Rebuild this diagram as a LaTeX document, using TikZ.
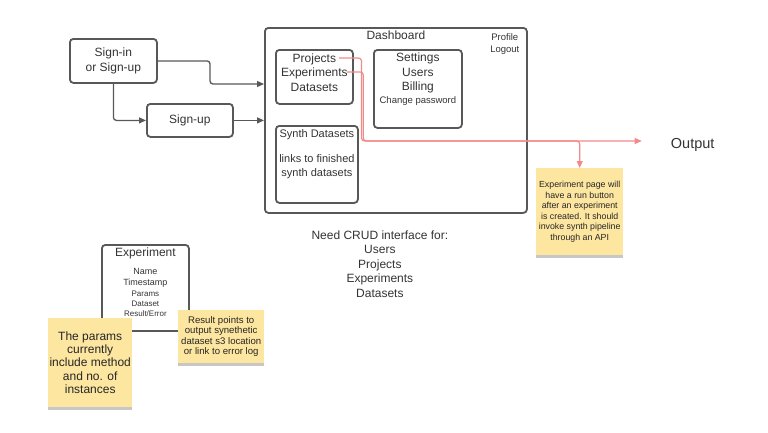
\documentclass[tikz,border=0pt]{standalone}
\usepackage{fontspec}
\setmainfont{Liberation Sans}
\usetikzlibrary{arrows.meta,shadows}
\definecolor{boxgray}{HTML}{585858}
\definecolor{txtgray}{HTML}{333333}
\definecolor{linkred}{HTML}{F28A8A}
\definecolor{notey}{HTML}{FDE6A0}
\newcommand{\fsz}[2]{\fontsize{#1}{#2}\selectfont}
\begin{document}
\begin{tikzpicture}[x=1pt,y=-1pt,
    >={Triangle[length=7pt,width=6pt]},
    uibox/.style={rectangle,draw=boxgray,line width=1.8pt,rounded corners=3.5pt,anchor=north west,inner sep=0pt},
    sticky/.style={rectangle,fill=notey,anchor=north west,inner sep=0pt,drop shadow={shadow xshift=0pt,shadow yshift=-2.5pt,opacity=0.22,fill=black}},
    txt/.style={align=center,text=txtgray,inner sep=0pt},
    flow/.style={->,draw=boxgray,line width=1.3pt,rounded corners=3pt},
    link/.style={->,draw=linkred,line width=1.2pt,rounded corners=3pt}]
    \useasboundingbox (0,0) rectangle (768,432);

    \node[uibox,minimum width=87,minimum height=44] (signin) at (69,38) {} ;
    \node[txt,font=\fsz{12}{14.5}] (signin_t) at (signin.center) {Sign-in\\or Sign-up} ;
    \node[uibox,minimum width=86,minimum height=33] (signup) at (146,103) {} ;
    \node[txt,font=\fsz{12}{14.5}] (signup_t) at (signup.center) {Sign-up} ;

    % dashboard and its panels
    \node[uibox,minimum width=262,minimum height=185] (dash) at (264,27) {} ;
    \node[txt,font=\fsz{12}{14.5},yshift=-8.7pt] (dash_t) at (dash.north) {Dashboard} ;
    \node[txt,font=\fsz{9.5}{12},xshift=-23pt,yshift=-17.3pt] (profile) at (dash.north east) {Profile\\Logout} ;
    \node[uibox,minimum width=77,minimum height=54] (projects) at (275,49) {} ;
    \node[txt,font=\fsz{12}{14.5},yshift=-23.3pt] (projects_t) at (projects.north) {Projects\\Experiments\\Datasets} ;
    \node[uibox,minimum width=88,minimum height=78] (settings) at (373,49) {} ;
    \node[txt,font=\fsz{12}{14.5},yshift=-30.4pt] (settings_t) at (settings.north) {Settings\\Users\\Billing\\[-1.2pt]{\fsz{9.5}{14.5}Change password}} ;
    \node[uibox,minimum width=82,minimum height=77] (synth) at (275,125) {} ;
    \node[txt,font=\fsz{11}{14},yshift=-28.9pt] (synth_t) at (synth.north) {Synth Datasets\\[11pt]links to finished\\synth datasets} ;

    \node[txt,font=\fsz{14.5}{17}] (output) at (692.7,144.8) {Output} ;
    \node[sticky,minimum width=87,minimum height=87] (rnote) at (536,168) {} ;
    \node[txt,text=black!85,font=\fsz{8.8}{10.5}] (rnote_t) at (rnote.center) {Experiment page will\\have a run button\\after an experiment\\is created. It should\\invoke synth pipeline\\through an API} ;

    \node[txt,font=\fsz{12}{14.5},xshift=-16pt,yshift=-50pt] (crud) at (dash.south) {Need CRUD interface for:\\Users\\Projects\\Experiments\\Datasets} ;

    % experiment record
    \node[uibox,minimum width=87,minimum height=86] (exp) at (101,244) {} ;
    \node[txt,font=\fsz{12}{14.5},yshift=-9.3pt] (exp_t) at (exp.north) {Experiment} ;
    \node[txt,font=\fsz{9}{11.3},yshift=-48.6pt] (exp_f) at (exp.north) {Name\\Timestamp\\[-0.3pt]{\fsz{8}{10}Params}\\[-1.3pt]{\fsz{8}{10}Dataset}\\[-1.3pt]{\fsz{8}{10}Result/Error}} ;
    \node[sticky,minimum width=84,minimum height=89] (lnote) at (48,318) {} ;
    \node[txt,text=black!85,font=\fsz{12}{13.4}] (lnote_t) at (lnote.center) {The params\\currently\\include method\\and no. of\\instances} ;
    \node[sticky,minimum width=86,minimum height=53] (snote) at (178,310) {} ;
    \node[txt,text=black!85,font=\fsz{9.6}{10.5}] (snote_t) at (snote.center) {Result points to\\output synethetic\\dataset s3 location\\or link to error log} ;

    \coordinate (j1) at (210,84) ;
    \coordinate (p_end) at (339,58) ;
    \coordinate (e_end) at (347,72) ;
    \coordinate (hline) at (0,141) ;

    \draw[flow] (signin.east) -| (j1) -- (j1 -| dash.west) ;
    \draw[flow] (signin.south) |- (signup.west) ;
    \draw[flow] (signup.east) -- (signup.east -| dash.west) ;

    \draw[link] (p_end) -- (361.5,58) |- ([xshift=-29pt,yshift=3.8pt]output.west) ;
    \draw[link] (e_end) -- (363.3,72) |- (rnote.north |- hline) -- (rnote.north) ;
\end{tikzpicture}
\end{document}
